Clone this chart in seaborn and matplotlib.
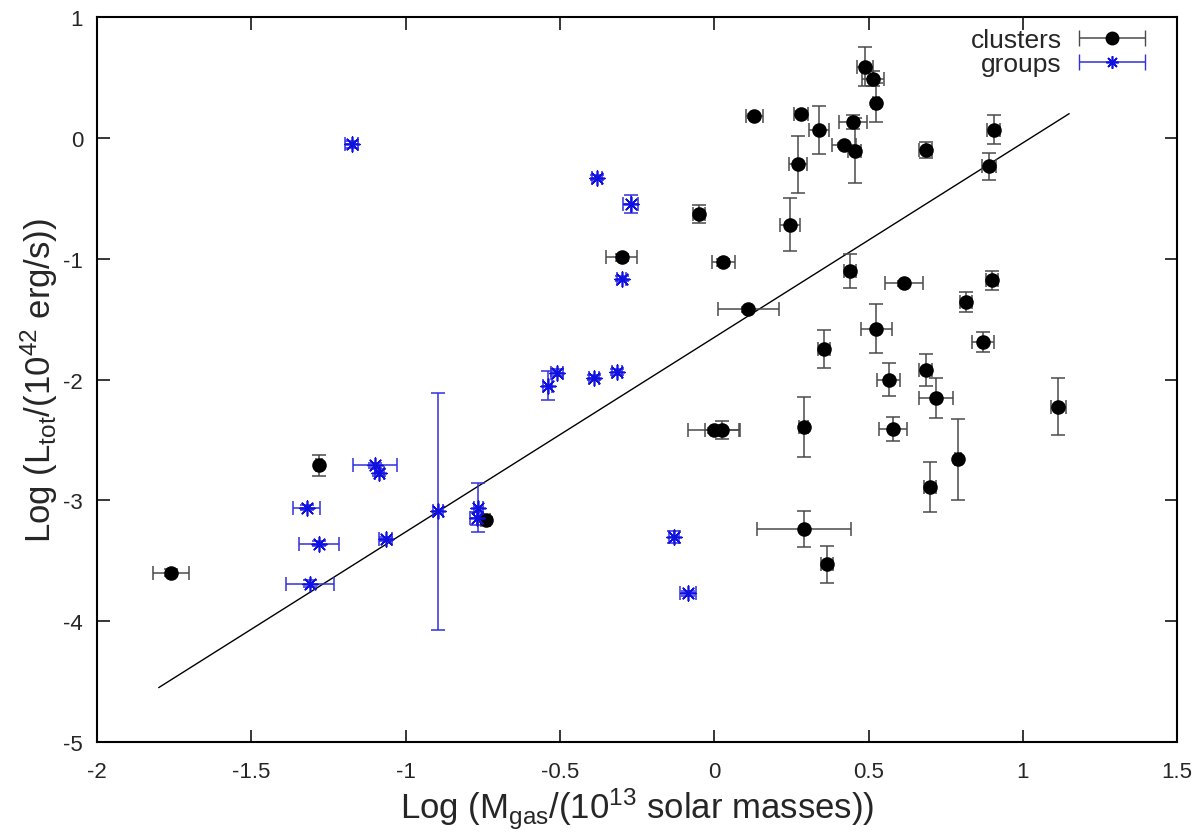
import numpy as np
import pandas as pd
import matplotlib
matplotlib.use('Agg')
import matplotlib.pyplot as plt
import seaborn as sns
from matplotlib.container import ErrorbarContainer
from matplotlib.legend_handler import HandlerErrorbar

# clusters: log gas mass, log luminosity and their errors
cl_x = [-1.76, -1.28, -0.74, -0.30, -0.05, 0.03, 0.13, 0.28, 0.34, 0.27,
        0.245, 0.44, 0.42, 0.45, 0.455, 0.49, 0.515, 0.525, 0.685, 0.905,
        0.89, 0.615, 0.815, 0.90, 0.11, 0.525, 0.355, 0.0, 0.025, 0.29,
        0.29, 0.365, 0.565, 0.685, 0.72, 0.58, 0.87, 0.79, 0.70, 1.115]
cl_y = [-3.60, -2.71, -3.16, -0.99, -0.63, -1.03, 0.18, 0.20, 0.065, -0.22,
        -0.72, -1.10, -0.06, 0.13, -0.105, 0.59, 0.49, 0.29, -0.10, 0.065,
        -0.235, -1.205, -1.36, -1.18, -1.42, -1.58, -1.75, -2.42, -2.42, -2.395,
        -3.24, -3.53, -2.00, -1.92, -2.15, -2.41, -1.69, -2.66, -2.89, -2.225]
cl_xerr = [0.057, 0.01, 0.015, 0.05, 0.02, 0.038, 0.027, 0.023, 0.032, 0.029,
           0.032, 0.02, 0.04, 0.045, 0.02, 0.026, 0.036, 0.01, 0.02, 0.02,
           0.023, 0.063, 0.02, 0.02, 0.099, 0.05, 0.02, 0.085, 0.055, 0.015,
           0.153, 0.02, 0.038, 0.02, 0.055, 0.045, 0.035, 0.01, 0.02, 0.025]
cl_yerr = [0.03, 0.085, 0.02, 0.03, 0.077, 0.03, 0.02, 0.02, 0.197, 0.237,
           0.22, 0.14, 0.02, 0.06, 0.27, 0.164, 0.06, 0.16, 0.066, 0.12,
           0.11, 0.02, 0.08, 0.08, 0.02, 0.204, 0.157, 0.02, 0.075, 0.247,
           0.15, 0.156, 0.138, 0.13, 0.166, 0.1, 0.08, 0.337, 0.207, 0.237]

# groups
gr_x = [-1.175, -0.38, -0.27, -0.30, -0.51, -0.54, -0.39, -0.315, -0.13, -0.085,
        -1.32, -1.28, -1.31, -1.10, -1.085, -1.065, -0.895, -0.765, -0.77]
gr_y = [-0.055, -0.33, -0.545, -1.165, -1.945, -2.05, -1.985, -1.94, -3.30, -3.77,
        -3.06, -3.36, -3.69, -2.71, -2.77, -3.32, -3.09, -3.06, -3.15]
gr_xerr = [0.02, 0.015, 0.024, 0.015, 0.02, 0.015, 0.015, 0.015, 0.015, 0.025,
           0.044, 0.065, 0.078, 0.071, 0.015, 0.02, 0.015, 0.015, 0.02]
gr_yerr = [0.03, 0.02, 0.076, 0.02, 0.03, 0.12, 0.02, 0.025, 0.05, 0.02,
           0.02, 0.02, 0.03, 0.02, 0.03, 0.02, 0.98, 0.2, 0.05]

# fitted relation (end points)
fit_x = [-1.80, 1.15]
fit_y = [-4.55, 0.20]

df_cl = pd.DataFrame({'x': cl_x, 'y': cl_y, 'xerr': cl_xerr, 'yerr': cl_yerr})
df_gr = pd.DataFrame({'x': gr_x, 'y': gr_y, 'xerr': gr_xerr, 'yerr': gr_yerr})
df_fit = pd.DataFrame({'x': fit_x, 'y': fit_y})

sns.set_style('ticks')
plt.rcParams['font.family'] = ['Liberation Sans', 'DejaVu Sans']
plt.rcParams['mathtext.default'] = 'regular'
plt.rcParams['axes.unicode_minus'] = False

fig = plt.figure(figsize=(12, 8.37), dpi=100)
ax = fig.add_axes([0.0808, 0.1123, 0.9002, 0.8662])

# fit line
sns.lineplot(data=df_fit, x='x', y='y', color='black', linewidth=1, ax=ax)

# error bars
ax.errorbar(df_cl.x, df_cl.y, xerr=df_cl.xerr, yerr=df_cl.yerr, fmt='none',
            ecolor='#4a4a4a', elinewidth=1.1, capsize=5, capthick=1.1)
ax.errorbar(df_gr.x, df_gr.y, xerr=df_gr.xerr, yerr=df_gr.yerr, fmt='none',
            ecolor='#3030e0', elinewidth=1.1, capsize=5, capthick=1.1)

# markers
sns.scatterplot(data=df_cl, x='x', y='y', marker='o', s=110, color='black',
                edgecolor='black', linewidth=0, ax=ax, zorder=3)
sns.scatterplot(data=df_gr, x='x', y='y', marker=(8, 2, 0), s=110, color='#1010e0',
                linewidth=1.2, ax=ax, zorder=3)

# legend in gnuplot style
h_cl = ax.errorbar([np.nan], [np.nan], xerr=[0.1], fmt='o', color='black', ms=9,
                   ecolor='#4a4a4a', elinewidth=1.1, capsize=6)
h_gr = ax.errorbar([np.nan], [np.nan], xerr=[0.1], fmt='none', ecolor='#3030e0',
                   elinewidth=1.1, capsize=6)
mk_gr = plt.Line2D([], [], marker=(8, 2, 0), color='#1010e0', ms=9, lw=0, mew=1.2)
ax.legend([h_cl, (h_gr, mk_gr)], ['clusters', 'groups'], loc='upper right',
          bbox_to_anchor=(0.986, 1.006), markerfirst=False, frameon=False,
          fontsize=19, handlelength=2.6, labelspacing=0.0, handletextpad=0.6,
          borderaxespad=0.2,
          handler_map={ErrorbarContainer: HandlerErrorbar(xerr_size=1.25)})

ax.set_xlim(-2, 1.5)
ax.set_ylim(-5, 1)
ax.set_xticks(np.arange(-2, 1.51, 0.5))
ax.set_yticks(np.arange(-5, 1.01, 1))
ax.xaxis.set_major_formatter(matplotlib.ticker.FormatStrFormatter('%g'))
ax.yaxis.set_major_formatter(matplotlib.ticker.FormatStrFormatter('%g'))
ax.tick_params(direction='in', length=9, width=1.3, labelsize=16,
               top=True, right=True)
ax.tick_params(axis='x', pad=14)
ax.tick_params(axis='y', pad=10)
for s in ax.spines.values():
    s.set_linewidth(1.5)
    s.set_color('black')

ax.set_xlabel('Log (M$_{gas}$/(10$^{13}$ solar masses))', fontsize=25, labelpad=2)
ax.set_ylabel('Log (L$_{tot}$/(10$^{42}$ erg/s))', fontsize=25, labelpad=2)

fig.savefig('out.png', dpi=100)
